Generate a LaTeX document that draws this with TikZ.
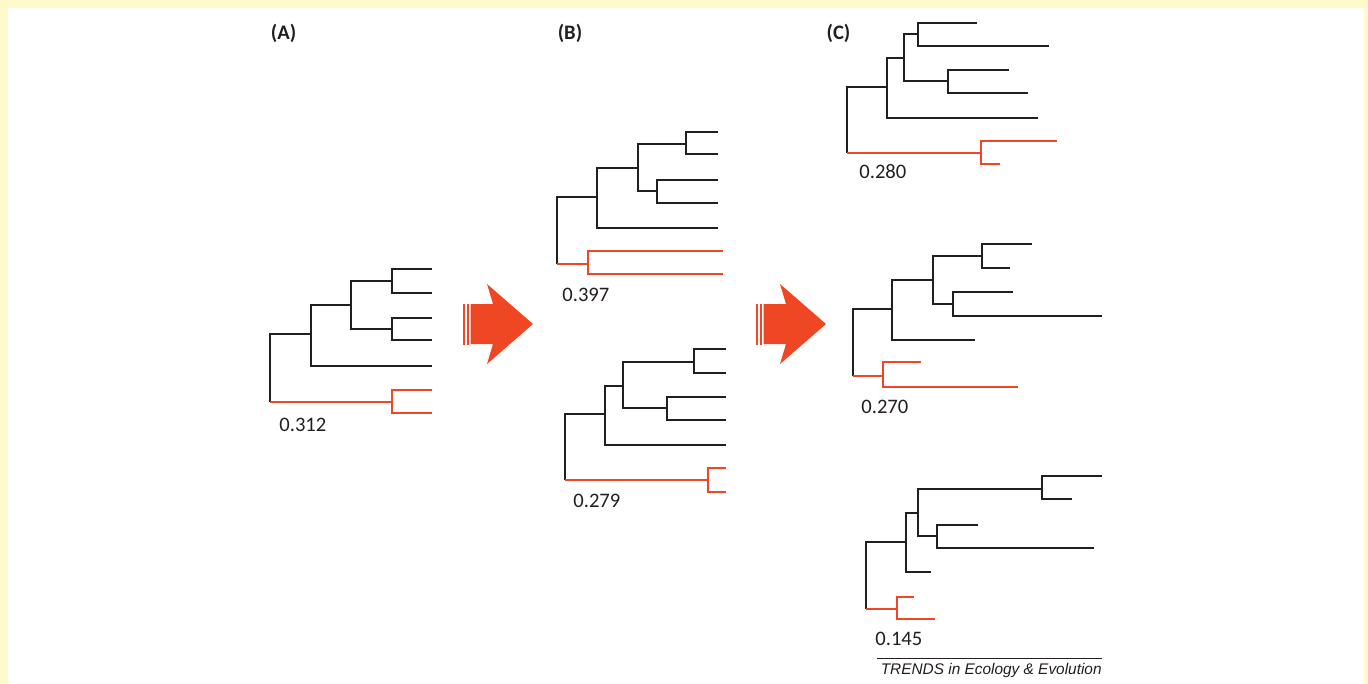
\documentclass[tikz,border=0pt]{standalone}
\usepackage{fontspec}
\setmainfont{Carlito}
\newfontfamily\journalfont{Liberation Sans}
\definecolor{treered}{RGB}{239,71,35}
\definecolor{pageyellow}{RGB}{255,249,204}
\definecolor{inkgray}{RGB}{35,31,32}
\tikzset{
    branch/.style={draw=inkgray,line width=0.7pt},
    redbranch/.style={draw=treered,line width=0.75pt},
    score/.style={anchor=west,inner sep=0pt,text=inkgray,font=\fontsize{10.3}{12}\selectfont},
    panel/.style={inner sep=0pt,text=inkgray,font=\bfseries\fontsize{10.3}{12}\selectfont}
}

\begin{document}
\begin{tikzpicture}[x=0.5pt,y=-0.5pt]
    \useasboundingbox (0,0) rectangle (1368,684);
    \fill[pageyellow] (0,0) rectangle (1368,684);
    \fill[white] (8,8) rectangle (1364,684);

    % panel letters
    \node[panel] (labA) at (283.5,33) {(A)};
    \node[panel] (labB) at (570,33) {(B)};
    \node[panel] (labC) at (838.5,33) {(C)};

    % (A)
    \coordinate (A0) at (270,402); \coordinate (A1) at (311,334); \coordinate (A2) at (351,305);
    \coordinate (A3) at (392,281); \coordinate (A4) at (392,329); \coordinate (A5) at (392,402);
    \coordinate (Al1) at (432,269); \coordinate (Al2) at (432,293); \coordinate (Al3) at (432,318);
    \coordinate (Al4) at (432,340); \coordinate (Al5) at (432,366); \coordinate (Al6) at (432,390);
    \coordinate (Al7) at (432,413);
    \node[score] (scoreA) at (279,424.5) {0.312};

    % (B) upper
    \coordinate (Ba0) at (557,264); \coordinate (Ba1) at (597,197); \coordinate (Ba2) at (638,168);
    \coordinate (Ba3) at (686,144); \coordinate (Ba4) at (657,191); \coordinate (Ba5) at (588,264);
    \coordinate (Bal1) at (718,132); \coordinate (Bal2) at (718,154); \coordinate (Bal3) at (718,180);
    \coordinate (Bal4) at (718,203); \coordinate (Bal5) at (718,228); \coordinate (Bal6) at (723,251);
    \coordinate (Bal7) at (723,274);
    \node[score] (scoreBa) at (562,294.5) {0.397};

    % (B) lower
    \coordinate (Bb0) at (565,480); \coordinate (Bb1) at (605,414); \coordinate (Bb2) at (623,386);
    \coordinate (Bb3) at (694,362); \coordinate (Bb4) at (667,408); \coordinate (Bb5) at (708,480);
    \coordinate (Bbl1) at (726,349); \coordinate (Bbl2) at (726,373); \coordinate (Bbl3) at (726,397);
    \coordinate (Bbl4) at (726,420); \coordinate (Bbl5) at (726,445); \coordinate (Bbl6) at (726,468);
    \coordinate (Bbl7) at (726,492);
    \node[score] (scoreBb) at (573,500.5) {0.279};

    % (C) top
    \coordinate (Ca0) at (847,153); \coordinate (Ca1) at (887,87); \coordinate (Ca2) at (904,58);
    \coordinate (Ca3) at (918,34); \coordinate (Ca4) at (948,81); \coordinate (Ca5) at (981,153);
    \coordinate (Cal1) at (977,23); \coordinate (Cal2) at (1049,46); \coordinate (Cal3) at (1009,70);
    \coordinate (Cal4) at (1028,93); \coordinate (Cal5) at (1038,118); \coordinate (Cal6) at (1057,141);
    \coordinate (Cal7) at (1000,164);
    \node[score] (scoreCa) at (859,171.5) {0.280};

    % (C) middle
    \coordinate (Cb0) at (853,376); \coordinate (Cb1) at (892,309); \coordinate (Cb2) at (933,280);
    \coordinate (Cb3) at (982,256); \coordinate (Cb4) at (953,304); \coordinate (Cb5) at (883,376);
    \coordinate (Cbl1) at (1032,244); \coordinate (Cbl2) at (1010,268); \coordinate (Cbl3) at (1013,292);
    \coordinate (Cbl4) at (1102,316); \coordinate (Cbl5) at (975,340); \coordinate (Cbl6) at (921,362);
    \coordinate (Cbl7) at (1018,387);
    \node[score] (scoreCb) at (861,406.5) {0.270};

    % (C) bottom
    \coordinate (Cc0) at (866,609); \coordinate (Cc1) at (906,542); \coordinate (Cc2) at (918,513);
    \coordinate (Cc3) at (1042,489); \coordinate (Cc4) at (937,536); \coordinate (Cc5) at (897,609);
    \coordinate (Ccl1) at (1102,476); \coordinate (Ccl2) at (1072,499); \coordinate (Ccl3) at (978,525);
    \coordinate (Ccl4) at (1094,548); \coordinate (Ccl5) at (931,572); \coordinate (Ccl6) at (914,597);
    \coordinate (Ccl7) at (935,619);
    \node[score] (scoreCc) at (875,639) {0.145};

    % same topology for every tree, the outgroup in red
    \foreach \t in {A,Ba,Bb,Ca,Cb,Cc}{
        \foreach \p/\c in {0/1,1/2,1/l5,2/3,2/4,3/l1,3/l2,4/l3,4/l4}
            \draw[branch] (\t\p) |- (\t\c);
        \foreach \p/\c in {0/5,5/l6,5/l7}
            \draw[redbranch] (\t\p) |- (\t\c);
    }

    % block arrows
    \foreach \ax in {463,756}{
        \fill[treered] (\ax,303.5) rectangle ++(2,41);
        \fill[treered] (\ax+4,303.5) rectangle ++(2,41);
        \fill[treered] (\ax+7.5,304) -- (\ax+30,304) -- (\ax+24,284) -- (\ax+70,324)
            -- (\ax+24,364) -- (\ax+30,344) -- (\ax+7.5,344) -- cycle;
    }

    \node[anchor=base east,inner sep=0pt,text=inkgray,font=\journalfont\itshape\fontsize{7.7}{9}\selectfont]
        (journal) at (1102,674) {TRENDS in Ecology \& Evolution};
    \draw[inkgray,line width=0.5pt] (877,658) -- (1102,658);
\end{tikzpicture}
\end{document}
